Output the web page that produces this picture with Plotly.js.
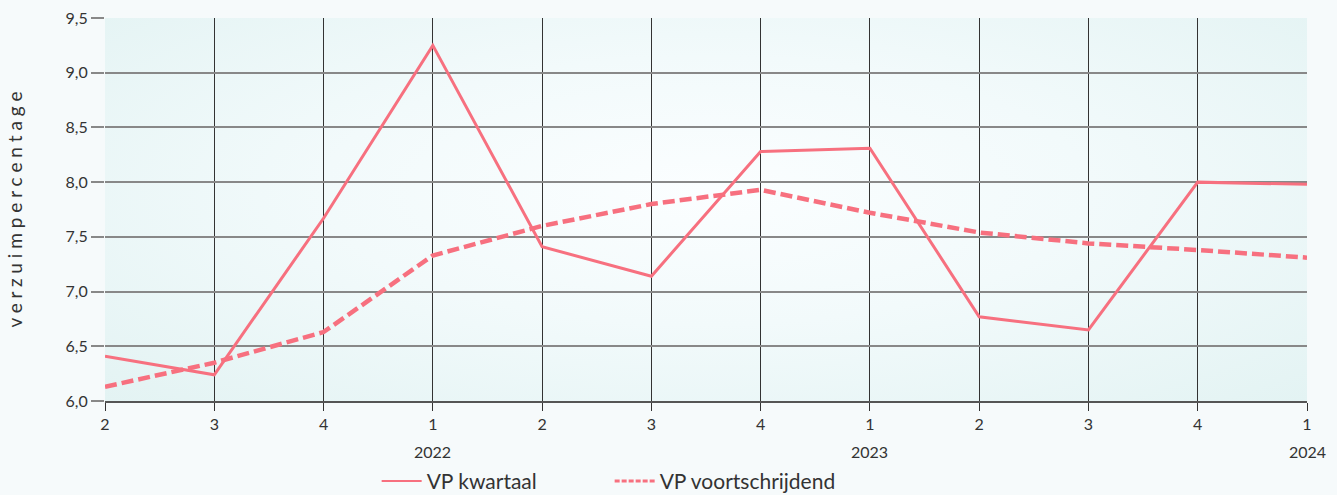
<!DOCTYPE html>
<html><head><meta charset="utf-8">
<script src="https://cdn.plot.ly/plotly-3.0.1.min.js"></script>
<style>
html,body{margin:0;padding:0;background:#f6fafb;}
#wrap{position:relative;width:1337px;height:495px;background:#f6fafb;}
#bg{position:absolute;left:105px;top:18px;width:1202px;height:383px;
background:radial-gradient(ellipse at 50% 45%, #fbfeff 0%, #f2fafb 45%, #e3f3f3 100%);}
#chart{position:absolute;left:0;top:0;width:1337px;height:495px;}
</style></head>
<body><div id="wrap"><div id="bg"></div><div id="chart"></div></div>
<script>
const quarters = ["2","3","4","1","2","3","4","1","2","3","4","1"];
const years = ["", "", "", "2022", "", "", "", "2023", "", "", "", "2024"];
const kwartaal = [6.41, 6.24, 7.67, 9.25, 7.41, 7.14, 8.28, 8.31, 6.77, 6.65, 8.00, 7.98];
const voortschrijdend = [6.13, 6.35, 6.63, 7.33, 7.60, 7.80, 7.93, 7.72, 7.54, 7.44, 7.38, 7.31];
const seriesNames = ['VP kwartaal', 'VP voortschrijdend'];
const idx = quarters.map((_, i) => i);
const col = '#f7707f';
const font = 'Lato, "Open Sans", sans-serif';

const traces = [
  {x: idx, y: kwartaal, type: 'scatter', mode: 'lines', name: seriesNames[0], showlegend: false,
   line: {color: col, width: 3}},
  {x: idx, y: voortschrijdend, type: 'scatter', mode: 'lines', name: seriesNames[1], showlegend: false,
   line: {color: col, width: 4.5, dash: '12px,5px'}},
  // legend-only entries (thinner sample lines, as in the original legend)
  {x: [null], y: [null], type: 'scatter', mode: 'lines', name: seriesNames[0],
   line: {color: col, width: 2}},
  {x: [null], y: [null], type: 'scatter', mode: 'lines', name: seriesNames[1],
   line: {color: col, width: 3, dash: '5px,2px'}}
];
const annotations = years.map((y, i) => ({x: i, y: 0, xref: 'x', yref: 'paper', text: y,
  showarrow: false, yanchor: 'top', yshift: -39, font: {family: font, size: 16, color: '#333'}}))
  .filter(a => a.text !== '');

const layout = {
  width: 1337, height: 495,
  margin: {l: 105, r: 30, t: 18, b: 94, autoexpand: false},
  paper_bgcolor: 'rgba(0,0,0,0)', plot_bgcolor: 'rgba(0,0,0,0)',
  font: {family: font, size: 16, color: '#333'},
  separators: ',.',
  showlegend: true,
  legend: {orientation: 'h', x: 0.226, xanchor: 'left', y: -0.21, yanchor: 'middle',
           font: {family: font, size: 21, color: '#333'}, itemwidth: 40, bgcolor: 'rgba(0,0,0,0)',
           entrywidth: 178, entrywidthmode: 'pixels', tracegroupgap: 0},
  xaxis: {range: [0, 11], tickvals: idx, ticktext: quarters, showgrid: true,
          gridcolor: '#333', gridwidth: 1, zeroline: false, ticks: 'outside', ticklen: 8,
          tickcolor: '#333', showline: true, linecolor: '#555', linewidth: 2,
          tickfont: {family: font, size: 16, color: '#333'}, fixedrange: true},
  yaxis: {range: [6, 9.5], dtick: 0.5, tickformat: '.1f', showgrid: true,
          gridcolor: '#888', gridwidth: 2, zeroline: false, ticks: 'outside', ticklen: 13,
          tickcolor: '#888', tickwidth: 2, showline: false,
          title: {text: 'v e r z u i m p e r c e n t a g e', font: {family: font, size: 19, color: '#333'}, standoff: 37},
          tickfont: {family: font, size: 16, color: '#333'}, fixedrange: true},
  annotations: annotations
};
Plotly.newPlot('chart', traces, layout, {displayModeBar: false, staticPlot: true});
</script></body></html>
